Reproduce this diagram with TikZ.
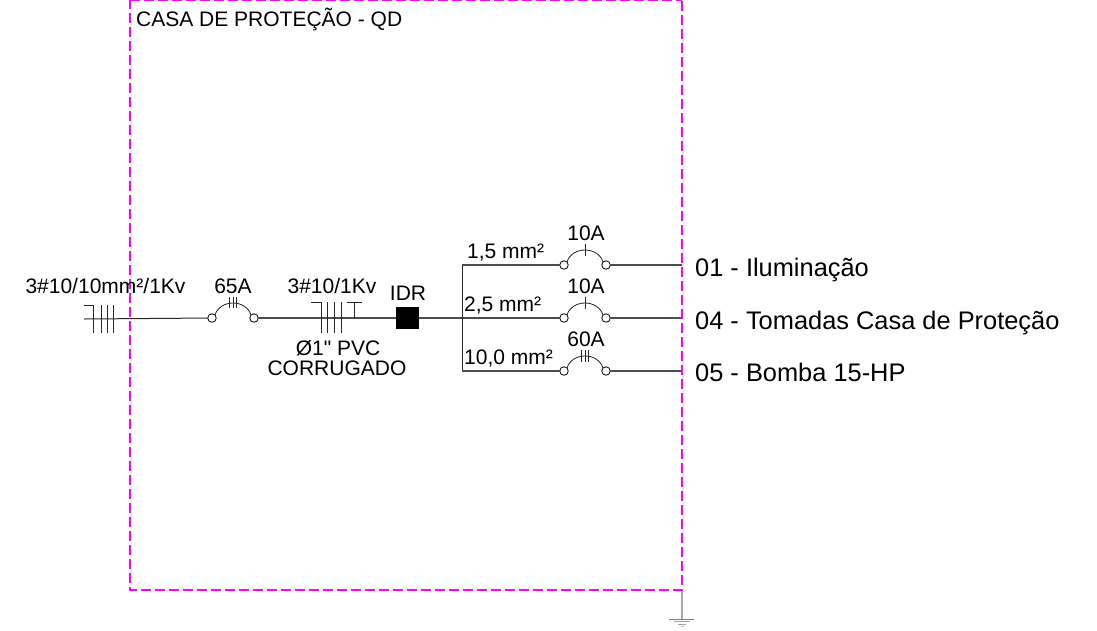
\documentclass[tikz,border=0pt]{standalone}
\usepackage{fontspec}
\setmainfont{Liberation Sans}
\newfontfamily\plainfont{Liberation Sans}
\definecolor{wire}{gray}{0.3}
\definecolor{magenta}{RGB}{255,0,255}
\tikzset{
  wireline/.style={draw=wire,line width=1.1pt},
  thin line/.style={draw=black!85,line width=0.8pt},
  contact/.style={circle,draw=black,line width=0.8pt,fill=white,minimum size=8.5pt,inner sep=0pt,outer sep=0pt},
  lab/.style={font=\fontsize{21}{21}\selectfont,inner sep=0pt,text=black,anchor=base},
  labw/.style={lab,anchor=base west},
  biglab/.style={font=\fontsize{25.4}{25.4}\selectfont,inner sep=0pt,text=black,anchor=base west},
  boundary/.style={draw=magenta,line width=1.7pt,dash pattern=on 10pt off 4pt},
}
\begin{document}
\begin{tikzpicture}[x=1pt,y=-1pt]
\useasboundingbox (0,0) rectangle (1097,630);
% wire endpoints
\coordinate (start) at (84,319);
\coordinate (busT) at (462,265);
\coordinate (busB) at (462,371);
\coordinate (busM) at (462,318);
\coordinate (e1) at (682,265);
\coordinate (e2) at (682,318);
\coordinate (e3) at (682,371);
\coordinate (gnd) at (682,619);
\coordinate (gtop) at (682,590);
% contacts
\node[contact] (a1) at (212,318) {};
\node[contact] (a2) at (254,318) {};
\node[contact] (b1) at (564,265) {};
\node[contact] (b2) at (606,265) {};
\node[contact] (c1) at (564,318) {};
\node[contact] (c2) at (606,318) {};
\node[contact] (d1) at (564,371) {};
\node[contact] (d2) at (606,371) {};
\node[fill=black,minimum width=23pt,minimum height=22pt,inner sep=0pt] (idr) at (407.5,318) {};
% connectors
\draw[thin line,line width=1pt] (start) -- (a1);
\draw[wireline] (a2) -- (idr);
\draw[wireline] (idr) -- (busM) -- (c1);
\draw[thin line] (busT) -- (busB);
\draw[wireline] (busT) -- (b1);
\draw[wireline] (busB) -- (d1);
\draw[wireline] (b2) -- (e1);
\draw[wireline] (c2) -- (e2);
\draw[wireline] (d2) -- (e3);
% arcs
\foreach \n/\m in {a1/a2,b1/b2,c1/c2,d1/d2}{
  \draw[thin line] (\n.north east) .. controls +(5,-16) and +(-5,-16) .. (\m.north west);
}
% breaker ticks
\draw[thin line] (229.5,297) -- (229.5,308) (233,297) -- (233,308) (236.5,297) -- (236.5,308);
\draw[thin line] (585,244) -- (585,256);
\draw[thin line] (585,297) -- (585,309);
\draw[thin line] (581.5,350) -- (581.5,362) (585,350) -- (585,362) (588.5,350) -- (588.5,362);
% cable ticks left
\draw[thin line] (84,305) -- (93,305) -- (93,333);
\draw[thin line] (101,305) -- (101,333) (107,305) -- (107,333) (113,305) -- (113,333);
% cable ticks middle
\draw[thin line] (311,302) -- (321,302) -- (321,333);
\draw[thin line] (327,302) -- (327,333) (334,302) -- (334,333) (341,302) -- (341,333);
\draw[thin line] (347,302) -- (362,302) (354,302) -- (354,318);
% ground
\draw[draw=gray!70,line width=1.2pt] (gtop) -- (gnd);
\draw[draw=gray,line width=0.8pt] (669,619) -- (694,619);
\draw[draw=gray!70,line width=0.8pt] (674,621.5) -- (690,621.5);
\draw[draw=gray!70,line width=0.8pt] (678,624) -- (686,624);
\draw[draw=gray!50,line width=0.8pt] (681,626) -- (684,626);
% boundary
\draw[boundary] (130,-1) -- (130,590) -- (682,590) -- (682,-1);
\draw[boundary] (130,0) -- (682,0);
% labels
\node[labw] (title) at (136,26) {CASA DE PROTEÇÃO - QD};
\node[lab] (l1) at (105.5,293) {3\#10/10mm²/1Kv};
\node[lab] (l2) at (233,293) {65A};
\node[lab] (l3) at (332,293) {3\#10/1Kv};
\node[lab] (l4) at (408,300) {IDR};
\node[lab] (l5) at (338,355) {Ø1{\plainfont "} PVC};
\node[lab] (l6) at (337,375) {CORRUGADO};
\node[labw] (s1) at (467,258) {1,5 mm²};
\node[labw] (s2) at (464,311) {2,5 mm²};
\node[labw] (s3) at (464,364) {10,0 mm²};
\node[lab] (r1) at (586,240) {10A};
\node[lab] (r2) at (586,293) {10A};
\node[lab] (r3) at (586,346) {60A};
\node[biglab] (o1) at (695,276) {01 - Iluminação};
\node[biglab] (o2) at (695,329) {04 - Tomadas Casa de Proteção};
\node[biglab] (o3) at (695,381) {05 - Bomba 15-HP};
\end{tikzpicture}
\end{document}
